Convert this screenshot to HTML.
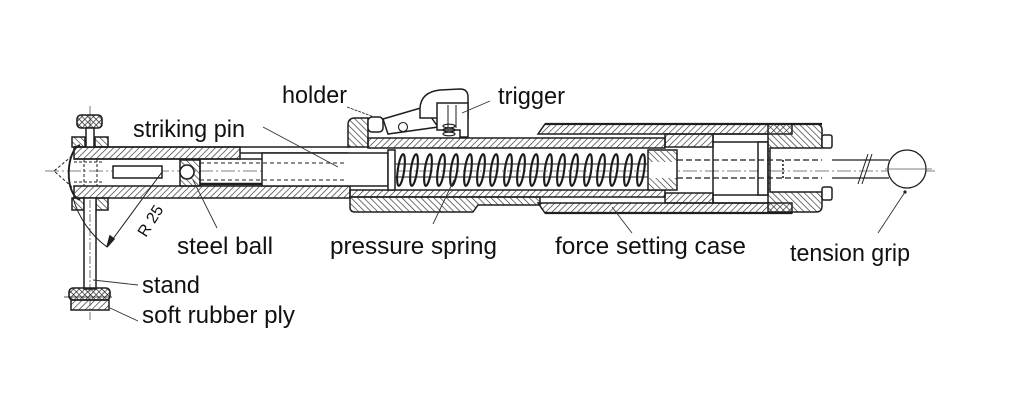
<!DOCTYPE html>
<html><head><meta charset="utf-8"><style>
html,body{margin:0;padding:0;background:#fff;}
svg{display:block;}
text{font-family:"Liberation Sans",Arial,sans-serif;fill:#111;}
</style></head><body>
<svg width="1010" height="411" viewBox="0 0 1010 411" xmlns="http://www.w3.org/2000/svg">
<defs>
<pattern id="h1" width="4.5" height="4.5" patternUnits="userSpaceOnUse" patternTransform="rotate(45)"><line x1="0" y1="0" x2="0" y2="4.5" stroke="#2a2a2a" stroke-width="1.3"/></pattern>
<pattern id="h2" width="4.5" height="4.5" patternUnits="userSpaceOnUse" patternTransform="rotate(-45)"><line x1="0" y1="0" x2="0" y2="4.5" stroke="#2a2a2a" stroke-width="1.3"/></pattern>
<pattern id="hx" width="4" height="4" patternUnits="userSpaceOnUse" patternTransform="rotate(45)"><line x1="0" y1="0" x2="0" y2="4" stroke="#222" stroke-width="1.4"/><line x1="0" y1="0" x2="4" y2="0" stroke="#222" stroke-width="1.4"/></pattern>
</defs>
<rect width="1010" height="411" fill="#fff"/>

<!-- centre line -->
<line x1="45" y1="171" x2="935" y2="171" stroke="#555" stroke-width="0.8" stroke-dasharray="14 3 2 3"/>

<g stroke="#1e1e1e" stroke-width="1.5" fill="none">
<!-- left tube -->
<rect x="74" y="147" width="166" height="12" fill="url(#h1)"/>
<rect x="74" y="186" width="276" height="12" fill="url(#h1)"/>
<line x1="74" y1="147" x2="350" y2="147"/>
<line x1="240" y1="153" x2="348" y2="153"/>
<line x1="74" y1="159" x2="262" y2="159"/>
<path d="M80 145 C66 150 64 194 80 200" stroke-width="1.9"/>
<path d="M72 156 L54 171 L72 187" stroke-dasharray="3 2" stroke-width="1"/>
<line x1="84" y1="159" x2="84" y2="186" stroke-dasharray="3 2" stroke-width="1"/>
<line x1="97" y1="159" x2="97" y2="186" stroke-dasharray="3 2" stroke-width="1"/>
<line x1="74" y1="162" x2="104" y2="162" stroke-dasharray="3 2" stroke-width="1"/>
<line x1="74" y1="182" x2="104" y2="182" stroke-dasharray="3 2" stroke-width="1"/>
<!-- pin -->
<rect x="113" y="166" width="49" height="12" fill="#fff"/>
<rect x="180" y="160" width="20" height="26" fill="url(#h2)"/>
<circle cx="187" cy="172" r="7" fill="#fff" stroke-width="1.6"/>
<line x1="200" y1="159" x2="200" y2="186"/>
<line x1="200" y1="184" x2="262" y2="184" stroke-width="2.4"/>
<rect x="262" y="153" width="126" height="33" fill="#fff"/>
<line x1="200" y1="163" x2="345" y2="163" stroke-dasharray="4 3" stroke-width="1"/>
<line x1="200" y1="180" x2="345" y2="180" stroke-dasharray="4 3" stroke-width="1"/>

<!-- top screw -->
<line x1="90" y1="106" x2="90" y2="147" stroke="#555" stroke-width="0.8"/>
<rect x="77" y="115" width="25" height="13" rx="4" fill="url(#hx)" stroke-width="1.6"/>
<rect x="86" y="128" width="8" height="19" fill="#fff"/>
<rect x="72" y="137" width="13" height="10" fill="url(#h2)"/>
<rect x="95" y="137" width="13" height="10" fill="url(#h2)"/>
<!-- stand -->
<rect x="72" y="198" width="12" height="12" fill="url(#h2)"/>
<rect x="96" y="198" width="12" height="12" fill="url(#h2)"/>
<rect x="84" y="198" width="12" height="91" fill="#fff"/>
<line x1="90" y1="200" x2="90" y2="322" stroke="#555" stroke-width="0.8" stroke-dasharray="8 2 2 2"/>
<rect x="69" y="288" width="41" height="12" rx="4" fill="url(#hx)" stroke-width="1.6"/>
<rect x="71" y="300" width="38" height="10" fill="url(#h1)"/>
<line x1="64" y1="297" x2="112" y2="297" stroke-width="0.8"/>
<!-- R25 -->
<path d="M73 198 A93 93 0 0 0 107 247" stroke-width="1"/>
<line x1="107" y1="247" x2="162" y2="172" stroke-width="1"/>
<path d="M107 247 L110 236 L114 239 Z" fill="#222"/>

<!-- holder block -->
<path d="M348 147 L348 125 Q348 118 355 118 L368 118 L368 147 Z" fill="url(#h2)"/>
<rect x="368" y="117" width="15" height="15" rx="4" fill="#fff"/>
<!-- trigger lever -->
<path d="M383 119 L424 107 L438 127 L388 134 Z" fill="#fff"/>
<circle cx="403" cy="127" r="4.5" fill="#fff" stroke-width="1.1"/>
<path d="M420 108 Q421 92 440 90 L460 89 Q468 89 468 97 L468 118 L420 118 Z" fill="#fff"/>
<path d="M437 103 L468 103 L468 137 L460 137 L460 130 L437 130 Z" fill="#fff"/>
<line x1="448" y1="105" x2="448" y2="128" stroke-width="1"/>
<line x1="456" y1="105" x2="456" y2="128" stroke-width="1"/>
<ellipse cx="449" cy="126" rx="6" ry="1.8" stroke-width="1.2"/>
<ellipse cx="449" cy="130" rx="6" ry="1.8" stroke-width="1.2"/>
<ellipse cx="449" cy="134" rx="6" ry="1.8" stroke-width="1.2"/>

<!-- middle tube -->
<rect x="368" y="138" width="297" height="10" fill="url(#h1)"/>
<rect x="350" y="190" width="315" height="7" fill="url(#h1)"/>
<path d="M350 197 L540 197 L540 205 L478 205 L473 212 L355 212 Q350 212 350 207 Z" fill="url(#h2)"/>
<rect x="388" y="150" width="7" height="40" fill="#fff"/>
<line x1="395" y1="164" x2="648" y2="164" stroke-width="0.9"/>
<line x1="395" y1="177" x2="648" y2="177" stroke-width="0.9"/>
</g>
<!-- spring coils -->
<g stroke="#1a1a1a" stroke-width="2.1" fill="none">
<ellipse cx="401" cy="170" rx="3.2" ry="16" transform="rotate(8 401 170)"/>
<ellipse cx="414" cy="170" rx="3.2" ry="16" transform="rotate(8 414 170)"/>
<ellipse cx="428" cy="170" rx="3.2" ry="16" transform="rotate(8 428 170)"/>
<ellipse cx="441" cy="170" rx="3.2" ry="16" transform="rotate(8 441 170)"/>
<ellipse cx="454" cy="170" rx="3.2" ry="16" transform="rotate(8 454 170)"/>
<ellipse cx="468" cy="170" rx="3.2" ry="16" transform="rotate(8 468 170)"/>
<ellipse cx="481" cy="170" rx="3.2" ry="16" transform="rotate(8 481 170)"/>
<ellipse cx="494" cy="170" rx="3.2" ry="16" transform="rotate(8 494 170)"/>
<ellipse cx="508" cy="170" rx="3.2" ry="16" transform="rotate(8 508 170)"/>
<ellipse cx="521" cy="170" rx="3.2" ry="16" transform="rotate(8 521 170)"/>
<ellipse cx="534" cy="170" rx="3.2" ry="16" transform="rotate(8 534 170)"/>
<ellipse cx="548" cy="170" rx="3.2" ry="16" transform="rotate(8 548 170)"/>
<ellipse cx="561" cy="170" rx="3.2" ry="16" transform="rotate(8 561 170)"/>
<ellipse cx="574" cy="170" rx="3.2" ry="16" transform="rotate(8 574 170)"/>
<ellipse cx="588" cy="170" rx="3.2" ry="16" transform="rotate(8 588 170)"/>
<ellipse cx="601" cy="170" rx="3.2" ry="16" transform="rotate(8 601 170)"/>
<ellipse cx="614" cy="170" rx="3.2" ry="16" transform="rotate(8 614 170)"/>
<ellipse cx="628" cy="170" rx="3.2" ry="16" transform="rotate(8 628 170)"/>
<ellipse cx="641" cy="170" rx="3.2" ry="16" transform="rotate(8 641 170)"/>
</g>

<g stroke="#1e1e1e" stroke-width="1.5" fill="none">
<!-- force setting case -->
<path d="M538 134 L545 124 L792 124 L792 134 Z" fill="url(#h1)"/>
<path d="M538 203 L792 203 L792 213 L545 213 Z" fill="url(#h1)"/>
<line x1="545" y1="124" x2="822" y2="124" stroke-width="2.2"/>
<line x1="545" y1="213" x2="792" y2="213" stroke-width="2.2"/>
<rect x="665" y="134" width="48" height="13" fill="url(#h1)"/>
<rect x="665" y="193" width="48" height="10" fill="url(#h1)"/>
<rect x="648" y="150" width="29" height="40" fill="#fff"/>
<rect x="648" y="151" width="29" height="11" fill="url(#h2)" stroke="none"/>
<rect x="648" y="178" width="29" height="11" fill="url(#h2)" stroke="none"/>
<line x1="713" y1="134" x2="768" y2="134"/>
<line x1="713" y1="142" x2="768" y2="142"/>
<line x1="713" y1="195" x2="768" y2="195"/>
<line x1="713" y1="203" x2="768" y2="203"/>
<line x1="713" y1="134" x2="713" y2="203"/>
<rect x="758" y="142" width="10" height="53" fill="#fff"/>
<path d="M768 124 L816 124 Q822 124 822 130 L822 148 L770 148 L770 192 L822 192 L822 206 Q822 212 816 212 L768 212 Z" fill="url(#h2)"/>
<rect x="822" y="135" width="10" height="13" rx="2" fill="#fff"/>
<rect x="822" y="187" width="10" height="13" rx="2" fill="#fff"/>
<line x1="677" y1="160" x2="822" y2="160" stroke-dasharray="6 3" stroke-width="1.2"/>
<line x1="677" y1="178" x2="822" y2="178" stroke-dasharray="6 3" stroke-width="1.2"/>
<line x1="783" y1="160" x2="783" y2="178" stroke-dasharray="2 2" stroke-width="1.6"/>
<!-- rod & grip -->
<line x1="832" y1="160" x2="889" y2="160" stroke-width="1.2"/>
<line x1="832" y1="178" x2="889" y2="178" stroke-width="1.2"/>
<line x1="858" y1="184" x2="868" y2="154" stroke-width="1"/>
<line x1="862" y1="184" x2="872" y2="154" stroke-width="1"/>
<circle cx="907" cy="169" r="19" fill="#fff" stroke-width="1.3"/>
<line x1="885" y1="169" x2="932" y2="169" stroke="#555" stroke-width="0.8"/>

<!-- leaders -->
<g stroke="#333" stroke-width="0.9">
<line x1="347" y1="107" x2="374" y2="117" stroke-dasharray="3 1"/>
<line x1="490" y1="101" x2="462" y2="113"/>
<line x1="263" y1="127" x2="338" y2="167"/>
<line x1="217" y1="228" x2="193" y2="180"/>
<line x1="433" y1="224" x2="454" y2="180"/>
<line x1="632" y1="233" x2="612" y2="207"/>
<line x1="878" y1="233" x2="905" y2="192"/>
<line x1="93" y1="280" x2="138" y2="285"/>
<line x1="110" y1="308" x2="138" y2="321"/>
</g>
</g>
<circle cx="905" cy="192" r="1.6" fill="#222"/>

<!-- labels -->
<text x="282" y="103" font-size="24" textLength="65" lengthAdjust="spacingAndGlyphs">holder</text>
<text x="498" y="104" font-size="24" textLength="67" lengthAdjust="spacingAndGlyphs">trigger</text>
<text x="133" y="137" font-size="24" textLength="112" lengthAdjust="spacingAndGlyphs">striking pin</text>
<text x="177" y="254" font-size="24" textLength="96" lengthAdjust="spacingAndGlyphs">steel ball</text>
<text x="330" y="254" font-size="24" textLength="167" lengthAdjust="spacingAndGlyphs">pressure spring</text>
<text x="555" y="254" font-size="24" textLength="191" lengthAdjust="spacingAndGlyphs">force setting case</text>
<text x="790" y="261" font-size="24" textLength="120" lengthAdjust="spacingAndGlyphs">tension grip</text>
<text x="142" y="293" font-size="24" textLength="58" lengthAdjust="spacingAndGlyphs">stand</text>
<text x="142" y="323" font-size="24" textLength="153" lengthAdjust="spacingAndGlyphs">soft rubber ply</text>
<text x="0" y="0" font-size="16" transform="translate(146 238) rotate(-58)">R 25</text>
</svg>
</body></html>
